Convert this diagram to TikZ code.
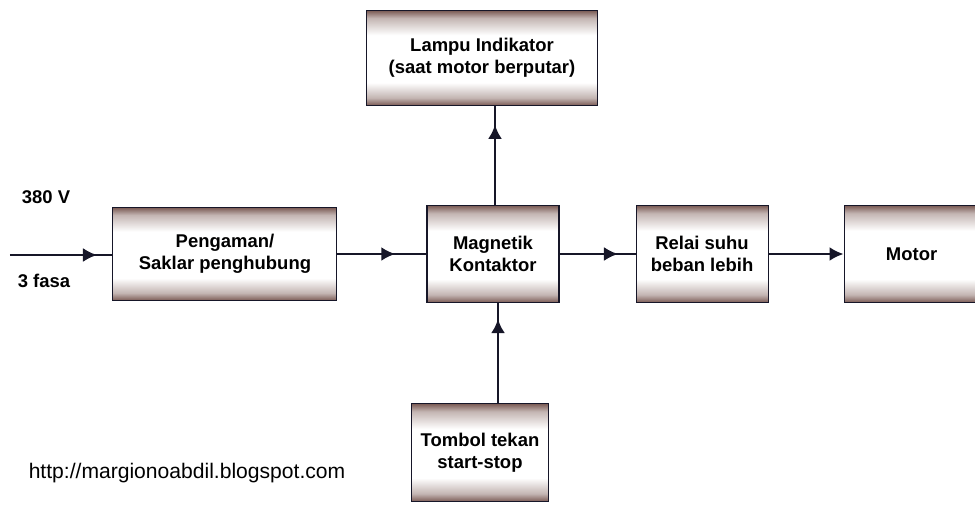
\documentclass[tikz,border=0pt]{standalone}
\usepackage{fontspec}
\setmainfont{Liberation Sans}
\usepackage{tikz}
\usetikzlibrary{arrows,arrows.meta,positioning,decorations.markings}
\definecolor{boxbrown}{RGB}{122,90,84}
\colorlet{boxmid}{boxbrown!45!white}
\definecolor{linenavy}{RGB}{22,22,40}
\pgfdeclareverticalshading{boxshade}{100bp}{color(0bp)=(boxbrown); color(25bp)=(boxbrown); color(29bp)=(boxmid); color(37bp)=(white); color(62bp)=(white); color(71bp)=(boxmid); color(75bp)=(boxbrown); color(100bp)=(boxbrown)}
\tikzset{
        box/.style = {draw=linenavy, line width=0.6pt, shade, shading=boxshade,
            minimum height=1.94cm,
            minimum width=2.64cm,
            align=center,
            font=\bfseries\fontsize{10.5}{12.5}\selectfont},
        conn/.style = {draw=linenavy, line width=1.5pt},
        tip/.style = {-{Latex[length=8pt,width=8pt]}},
        arrowat/.style = {postaction={decorate},
            decoration={markings, mark=at position #1 with {\arrow{Latex[length=8pt,width=8pt]}}}},
        lbl/.style = {font=\bfseries\fontsize{10.5}{12.5}\selectfont},
    }

\begin{document}
\begin{tikzpicture}
  \clip (0,0) rectangle (19.5,-10.24);
  \useasboundingbox (0,0) rectangle (19.5,-10.24);

  \node[box] (mag) at (9.86,-5.08) {Magnetik\\Kontaktor};
  \node[box, minimum width=4.48cm, minimum height=1.86cm, left=1.78cm of mag] (peng) {Pengaman/\\Saklar penghubung};
  \node[box, right=1.52cm of mag] (relai) {Relai suhu\\beban lebih};
  \node[box, minimum width=2.7cm, right=1.5cm of relai] (motor) {Motor};
  \node[box, minimum width=4.62cm, minimum height=1.9cm, above=1.98cm of mag, xshift=-0.22cm] (lampu) {Lampu Indikator\\(saat motor berputar)};
  \node[box, minimum width=2.74cm, minimum height=1.96cm, below=2cm of mag, xshift=-0.26cm] (tombol) {Tombol tekan\\start-stop};

  \coordinate (in) at (0.2,-5.1);
  \node[lbl] (volt) at (0.92,-3.94) {380 V};
  \node[lbl] (fasa) at (0.88,-5.62) {3 fasa};
  \node[font=\fontsize{12}{14}\selectfont] (web) at (3.74,-9.46) {http://margionoabdil.blogspot.com};

  % connectors
  \draw[conn, arrowat=0.85] (in) -- (in -| peng.west);
  \draw[conn, arrowat=0.65] (peng.east |- mag.west) -- (mag.west);
  \draw[conn, arrowat=0.77] (mag.east) -- (relai.west);
  \draw[conn, tip] (relai.east) -- (motor.west);
  \draw[conn, arrowat=0.81] ([xshift=0.04cm]mag.north) -- ([xshift=0.04cm]mag.north |- lampu.south);
  \draw[conn, arrowat=0.84] ([xshift=0.1cm]mag.south |- tombol.north) -- ([xshift=0.1cm]mag.south);
\end{tikzpicture}
\end{document}
